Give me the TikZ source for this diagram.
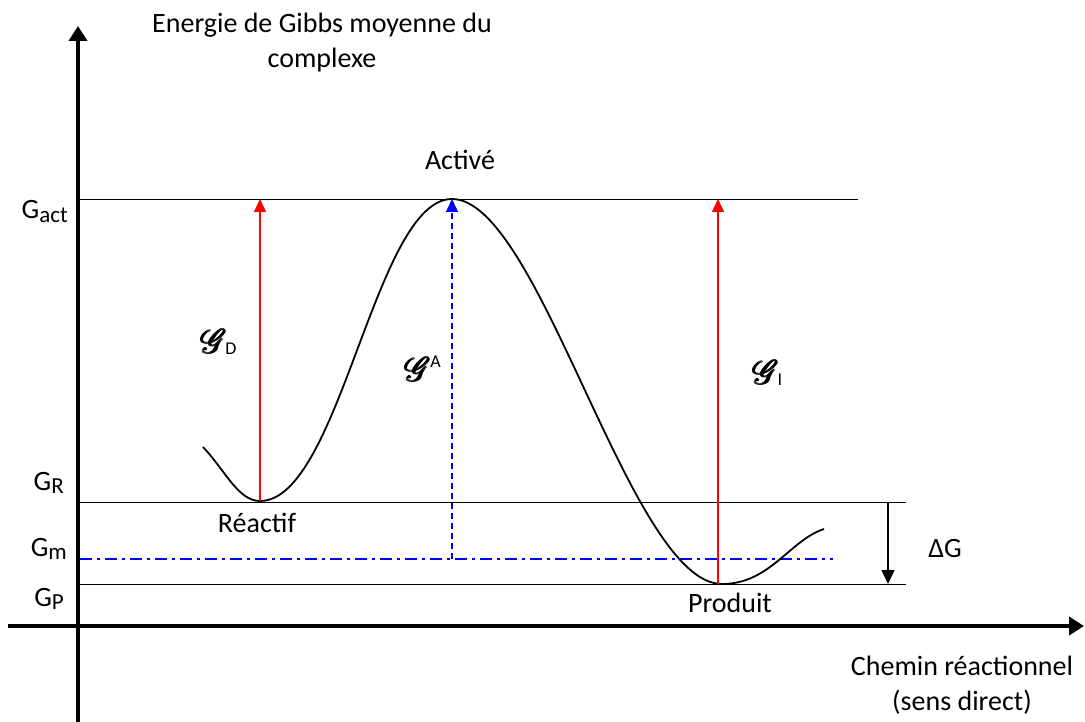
\documentclass[tikz,border=0pt]{standalone}
\usepackage{amsmath}
\usepackage{graphicx}
\usepackage{fontspec}
\setmainfont{Carlito}
\usepackage{mathrsfs}
\usetikzlibrary{arrows.meta}
\newcommand{\mysub}[1]{\raisebox{-0.12em}{\fontsize{23}{24}\selectfont #1}}
\newcommand{\scrG}{\scalebox{1.35}{$\pmb{\mathscr{G}}$}}
\newcommand{\scrsub}[1]{\raisebox{-0.05em}{\fontsize{18}{18}\selectfont #1}}
\newcommand{\scrsup}[1]{\raisebox{0.55em}{\fontsize{18}{18}\selectfont #1}}
\begin{document}
\begin{tikzpicture}[x=1pt,y=-1pt,
  lbl/.style={font=\fontsize{28}{35}\selectfont, inner sep=0pt},
  thinline/.style={line width=0.9pt},
  axis/.style={line width=4.5pt,-{Triangle[length=15pt,width=18pt]}},
  redarrow/.style={red,line width=1.3pt,-{Triangle[length=13pt,width=12pt]}},
  bluearrow/.style={blue,line width=1.3pt,dash pattern=on 6pt off 4pt,-{Triangle[length=13pt,width=12pt]}},
  scr/.style={font=\fontsize{24.88}{28}\selectfont, inner sep=0pt}]
\useasboundingbox (0,0) rectangle (1085,722);
% axes
\coordinate (yb) at (78,722);
\coordinate (yt) at (78,26);
\coordinate (xl) at (8,626);
\coordinate (xr) at (1084,626);
\draw[axis] (yb) -- (yt);
\draw[axis] (xl) -- (xr);
% level lines
\coordinate (a1) at (80,199); \coordinate (a2) at (858,199);
\coordinate (r1) at (80,502); \coordinate (r2) at (906,502);
\coordinate (p1) at (80,584); \coordinate (p2) at (906,584);
\coordinate (m1) at (80,559); \coordinate (m2) at (833,559);
\draw[thinline] (a1) -- (a2);
\draw[thinline] (r1) -- (r2);
\draw[thinline] (p1) -- (p2);
\draw[blue,line width=1.3pt,dash pattern=on 12pt off 5pt on 3pt off 5pt] (m1) -- (m2);
% curve
\coordinate (c0) at (203,447);
\coordinate (cR) at (260,501);
\coordinate (cA) at (452,199);
\coordinate (cP) at (722,584);
\coordinate (c4) at (824,529);
\draw[line width=1.8pt] (c0) .. controls (225,470) and (238,501) .. (cR)
  .. controls (340,501) and (375,199) .. (cA)
  .. controls (540,199) and (630,584) .. (cP)
  .. controls (770,584) and (790,540) .. (c4);
% arrows
\coordinate (d1) at (260,501); \coordinate (d2) at (260,199);
\coordinate (i1) at (718,584); \coordinate (i2) at (718,199);
\coordinate (b1) at (452,559); \coordinate (b2) at (452,199);
\draw[redarrow] (d1) -- (d2);
\draw[redarrow] (i1) -- (i2);
\draw[bluearrow] (b1) -- (b2);
\coordinate (g1) at (888,502); \coordinate (g2) at (888,584);
\draw[line width=1.3pt,-{Triangle[length=14pt,width=13pt]}] (g1) -- (g2);
% labels
\node[lbl,anchor=base east] (Lact) at (68,219) {G\mysub{act}};
\node[lbl,anchor=base east] (LR) at (64,490) {G\mysub{R}};
\node[lbl,anchor=base east] (Lm) at (67,556) {G\mysub{m}};
\node[lbl,anchor=base east] (LP) at (64,606) {G\mysub{P}};
\node[lbl] (act) at (460,160) {Activé};
\node[lbl] (rea) at (257,523) {Réactif};
\node[lbl] (pro) at (730,603) {Produit};
\node[lbl] (dG) at (945,549) {ΔG};
\node[scr,anchor=base west] (sD) at (201,353) {\scrG\kern-2pt\scrsub{D}};
\node[scr,anchor=base west] (sA) at (405,381) {\scrG\kern-1pt\scrsup{A}};
\node[scr,anchor=base west] (sI) at (753,384) {\scrG\kern-2pt\scrsub{I}};
\node[lbl,align=center] (title) at (322,43) {Energie de Gibbs moyenne du\\complexe};
\node[lbl,align=center] (xlab) at (962,685) {Chemin réactionnel\\(sens direct)};
\end{tikzpicture}
\end{document}
